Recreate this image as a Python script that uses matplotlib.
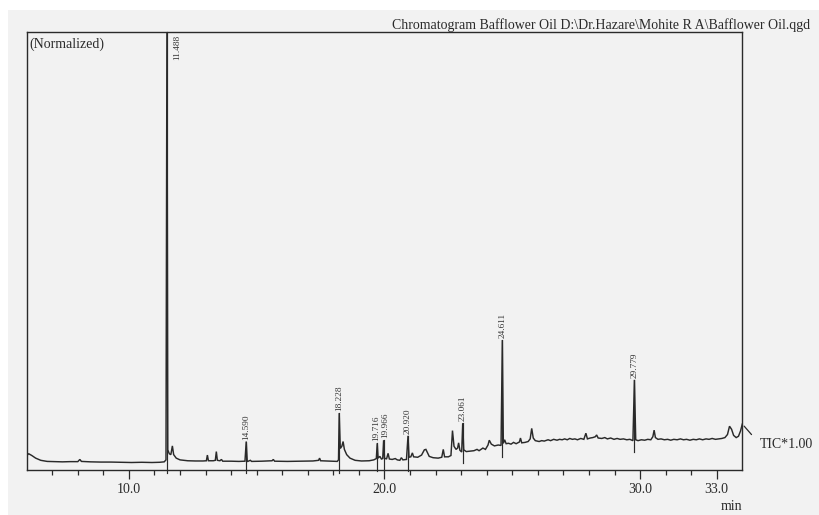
import numpy as np
import matplotlib
matplotlib.use("Agg")
import matplotlib.pyplot as plt
from matplotlib.patches import Rectangle

# Total ion chromatogram trace: retention time (min) and normalized signal
trace_time = [
    6.00, 6.08, 6.20, 6.35, 6.55, 6.80, 7.10, 7.40, 7.70, 8.00, 8.08, 8.14, 8.50, 8.90,
    9.30, 9.70, 10.10, 10.50, 10.90, 11.20, 11.38, 11.45,
    11.52, 11.58, 11.64, 11.70, 11.75, 11.85, 12.00, 12.30, 12.60, 12.90, 13.03, 13.07,
    13.11, 13.30, 13.38, 13.42, 13.46, 13.56, 13.62, 13.67, 14.00, 14.30, 14.54,
    14.63, 14.75, 14.80, 15.20, 15.60, 15.65, 15.70, 16.20, 16.80, 17.20, 17.42, 17.46,
    17.50, 17.90, 18.15, 18.20,
    18.27, 18.33, 18.38, 18.43, 18.52, 18.65, 18.85, 19.10, 19.40, 19.58, 19.68,
    19.75, 19.82, 19.88, 19.93,
    20.00, 20.08, 20.14, 20.19, 20.30, 20.42, 20.50, 20.60, 20.66, 20.72, 20.86,
    20.96, 21.03, 21.09, 21.14, 21.30, 21.45, 21.56, 21.62, 21.75, 21.90, 22.10, 22.24,
    22.30, 22.35, 22.50, 22.60, 22.66, 22.72, 22.80, 22.86, 22.90, 22.95, 23.02,
    23.10, 23.20, 23.35, 23.50, 23.62, 23.70, 23.85, 23.95, 24.05, 24.10, 24.18, 24.30,
    24.45, 24.56,
    24.65, 24.70, 24.76, 24.85, 24.95, 25.05, 25.15, 25.28, 25.32, 25.37, 25.50, 25.62,
    25.70, 25.76, 25.82, 25.90, 26.05, 26.15, 26.25, 26.40, 26.50, 26.62, 26.75, 26.85,
    26.95, 27.05, 27.15, 27.25, 27.35, 27.45, 27.55, 27.68, 27.80, 27.88, 27.94, 28.05,
    28.15, 28.25, 28.30, 28.36, 28.50, 28.62, 28.72, 28.85, 28.98, 29.10, 29.22, 29.35,
    29.48, 29.60, 29.72,
    29.83, 29.92, 30.05, 30.18, 30.30, 30.42, 30.50, 30.55, 30.60, 30.70, 30.82, 30.95,
    31.08, 31.20, 31.32, 31.45, 31.58, 31.70, 31.82, 31.95, 32.08, 32.20, 32.32, 32.45,
    32.58, 32.70, 32.82, 32.95, 33.08, 33.20, 33.32, 33.42, 33.50, 33.58, 33.66, 33.76,
    33.85, 33.93, 34.00,
]
trace_signal = [
    3.2, 3.6, 3.2, 2.6, 2.1, 1.85, 1.8, 1.75, 1.8, 1.8, 2.3, 1.85, 1.75, 1.7,
    1.7, 1.65, 1.6, 1.65, 1.6, 1.65, 1.75, 2.2,
    4.5, 3.6, 3.4, 5.4, 3.4, 2.6, 2.2, 2.0, 1.95, 1.95, 2.0, 3.3,
    2.0, 2.0, 2.1, 4.1, 2.1, 2.0, 2.3, 1.9, 1.9, 1.85, 1.9,
    1.8, 2.1, 1.85, 1.9, 2.0, 2.3, 1.9, 1.85, 1.9, 1.95, 2.1, 2.6,
    2.0, 1.9, 1.85, 2.2,
    4.8, 5.3, 6.4, 4.6, 3.4, 2.6, 2.1, 1.95, 2.0, 2.2, 2.5,
    2.6, 3.0, 2.4, 2.5,
    2.6, 2.4, 3.7, 2.4, 2.3, 2.5, 2.2, 2.1, 2.7, 2.2, 2.3,
    2.8, 2.9, 3.8, 2.9, 2.8, 3.3, 4.5, 4.6, 3.0, 2.7, 2.6, 2.8,
    4.6, 2.9, 2.9, 3.2, 8.9, 5.3, 4.6, 4.9, 6.1, 4.4, 4.0,
    4.5, 4.1, 4.2, 4.3, 4.6, 4.3, 4.9, 4.6, 5.6, 6.7, 5.8, 5.4,
    5.6, 5.5,
    6.0, 6.8, 5.9, 6.0, 5.8, 6.2, 5.9, 6.3, 7.2, 6.1, 6.2, 6.4,
    7.0, 9.4, 7.2, 6.6, 6.4, 6.6, 6.5, 6.8, 6.6, 6.9, 6.7, 6.9,
    6.8, 7.0, 6.8, 7.1, 6.9, 7.0, 6.8, 7.1, 6.9, 8.3, 7.0, 7.2,
    7.3, 7.5, 7.9, 7.2, 7.1, 7.3, 7.0, 7.2, 6.9, 7.1, 6.9, 7.0,
    6.8, 6.9, 6.6,
    6.8, 6.6, 6.8, 6.7, 6.9, 6.8, 7.5, 9.0, 7.3, 6.9, 7.0, 6.8,
    6.9, 6.7, 6.9, 6.8, 7.0, 6.8, 6.9, 6.7, 6.9, 6.8, 7.0, 6.8,
    7.0, 6.9, 7.1, 6.9, 7.0, 7.1, 7.3, 8.0, 9.9, 9.2, 7.8, 7.3,
    7.6, 8.8, 10.4,
]

# Labelled peaks: retention time label and apex height
peak_labels = ["11.488", "14.590", "18.228", "19.716", "19.966",
               "20.920", "23.061", "24.611", "29.779"]
peak_height = [105.0, 6.4, 12.9, 6.0, 6.7, 7.7, 10.6, 29.6, 20.5]

x_major = [10.0, 20.0, 30.0, 33.0]
x_limits = (6.0, 34.0)
y_limits = (0.0, 100.0)

title_text = "Chromatogram Bafflower Oil D:\\Dr.Hazare\\Mohite R A\\Bafflower Oil.qgd"

plt.rcParams["font.family"] = ["Liberation Serif", "DejaVu Serif"]
ink = "#2a2a2a"

W, H = 820, 515
fig = plt.figure(figsize=(W / 100, H / 100), dpi=100, facecolor="white")
fig.add_artist(Rectangle((8 / W, 0), 1, 1 - 10 / H, transform=fig.transFigure,
                         facecolor="#f2f2f2", edgecolor="none", zorder=-10))

ax = fig.add_axes([26.7 / W, 1 - 469.5 / H, (742.3 - 26.7) / W, (469.5 - 32.3) / H])
ax.set_facecolor("none")

# merge the labelled apexes into the trace
peak_rt = [float(s) for s in peak_labels]
t_all = np.array(trace_time + peak_rt)
s_all = np.array(trace_signal + peak_height)
order = np.argsort(t_all)
t_all, s_all = t_all[order], s_all[order]

ax.plot(t_all, s_all, color=ink, lw=1.05, solid_joinstyle="miter", zorder=3)

ax.set_xlim(*x_limits)
ax.set_ylim(*y_limits)

# peak-top markers and retention-time labels
base_t = np.array(trace_time)
base_s = np.array(trace_signal)
for i, (lab, rt, h) in enumerate(zip(peak_labels, peak_rt, peak_height)):
    near = base_s[np.abs(base_t - rt) < 0.15]
    bottom = near.min() - 2.6
    ax.plot([rt, rt], [bottom, min(h, y_limits[1])], color=ink, lw=0.85,
            clip_on=False, zorder=3)
    # spread apart labels of closely eluting peaks
    dx = 0.0
    if i + 1 < len(peak_rt) and peak_rt[i + 1] - rt < 0.4:
        dx -= 1.5
    if i > 0 and rt - peak_rt[i - 1] < 0.4:
        dx += 1.5
    if h > y_limits[1]:
        ax.annotate(lab, xy=(rt, y_limits[1]), xytext=(10, -3),
                    textcoords="offset pixels", rotation=90, ha="center",
                    va="top", fontsize=6.7, color="#333333")
    else:
        ax.annotate(lab, xy=(rt, h), xytext=(dx, 2), textcoords="offset pixels",
                    rotation=90, ha="center", va="bottom", fontsize=6.7,
                    color="#333333")

# axes frame and ticks
for sp in ax.spines.values():
    sp.set_color(ink)
    sp.set_linewidth(1.0)
ax.set_yticks([])
ax.set_xticks(x_major)
ax.set_xticklabels([f"{v:.1f}" for v in x_major])
ax.set_xticks([m for m in range(7, 34) if float(m) not in x_major], minor=True)
ax.tick_params(axis="x", which="major", length=6.5, width=0.9, color=ink,
               direction="out", pad=3, labelsize=10, labelcolor=ink)
ax.tick_params(axis="x", which="minor", length=3.3, width=0.9, color=ink,
               direction="out")

ax.text(0.004, 0.988, "(Normalized)", transform=ax.transAxes, ha="left",
        va="top", fontsize=10, color=ink)

fig.text(810 / W, 1 - 29 / H, title_text, ha="right", va="baseline",
         fontsize=10, color=ink)
fig.text(732 / W, 1 - 506 / H, "min", ha="center", va="center",
         fontsize=10, color=ink)

ax.annotate("TIC*1.00", xy=(t_all[-1], s_all[-1]), xytext=(17.5, -20),
            textcoords="offset pixels", ha="left", va="center", fontsize=10,
            color=ink, annotation_clip=False,
            arrowprops=dict(arrowstyle="-", color=ink, lw=0.9, shrinkA=6,
                            shrinkB=2, relpos=(0, 0.5)))

fig.savefig("out.png", dpi=100, facecolor=fig.get_facecolor())
